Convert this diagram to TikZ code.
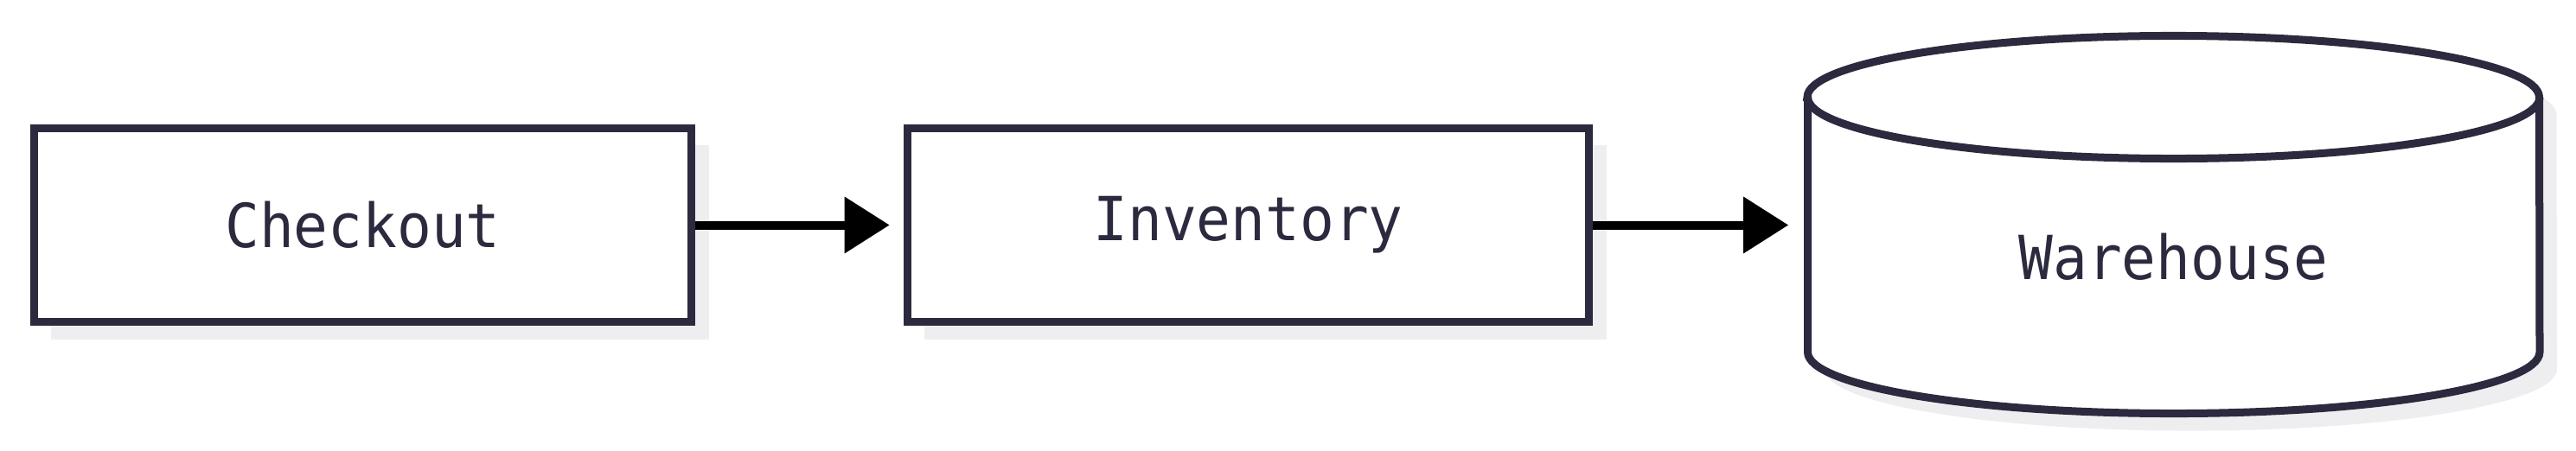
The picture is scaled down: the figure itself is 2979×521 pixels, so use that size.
\documentclass[tikz,border=0pt]{standalone}
\usepackage{fontspec}
\setmonofont[FakeStretch=0.94]{DejaVu Sans Mono}
\usetikzlibrary{arrows.meta,shadows}
\definecolor{ink}{HTML}{2B2A3E}
\definecolor{shade}{HTML}{EEEEF0}
\tikzset{
	label font/.style={text=ink, font=\fontsize{20}{24}\selectfont\ttfamily},
	backshadow/.style={drop shadow={shadow xshift=0.2cm, shadow yshift=-0.2cm, fill=shade, opacity=1}},
	stage/.style={draw=ink, line width=0.09cm, fill=white, minimum height=2.24cm, inner sep=0pt, label font, backshadow},
	flow/.style={line width=0.1cm, -{Triangle[length=0.52cm, width=0.63cm]}},
}
\begin{document}
\begin{tikzpicture}[x=0.01cm, y=-0.01cm]
	\useasboundingbox (0,0) rectangle (2979,521);
	\node [stage, minimum width=7.6cm]  (checkout)  at (419.5,260.5)  {Checkout};
	\node [stage, minimum width=7.88cm] (inventory) at (1443.5,260.5) {Inventory};
	% warehouse can
	\draw [draw=ink, line width=0.09cm, fill=white, backshadow]
		(2090.5,112.5) -- (2090.5,407.5) arc [start angle=180, end angle=360, x radius=4.23cm, y radius=0.71cm]
		-- (2936.5,112.5) arc [start angle=0, end angle=180, x radius=4.23cm, y radius=0.71cm] -- cycle;
	\draw [draw=ink, line width=0.09cm] (2090.5,112.5) arc [start angle=180, end angle=360, x radius=4.23cm, y radius=0.71cm];
	\node [minimum width=8.46cm, inner sep=0pt, outer sep=0pt, label font] (warehouse) at (2513.5,297) {Warehouse};
	\draw [flow, shorten >=0.16cm] (checkout) -- (inventory);
	\draw [flow, shorten >=0.22cm] (inventory.east) -- (inventory.east -| warehouse.west);
\end{tikzpicture}
\end{document}
